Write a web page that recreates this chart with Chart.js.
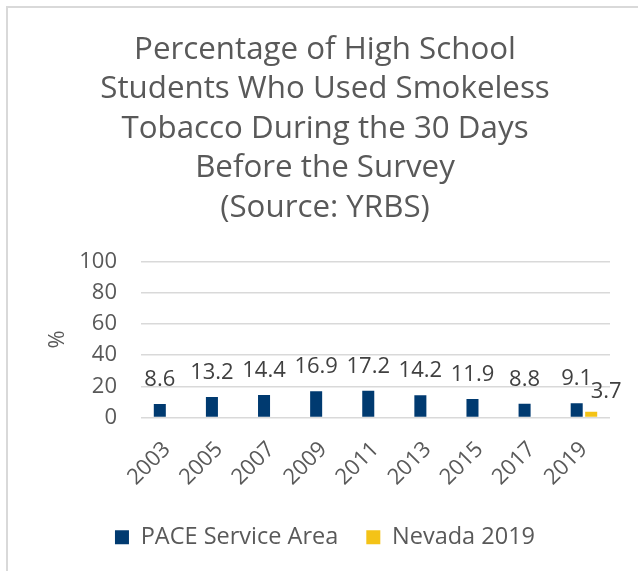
<!DOCTYPE html>
<html>
<head>
<meta charset="utf-8">
<script src="https://cdn.jsdelivr.net/npm/chart.js@4.4.1/dist/chart.umd.min.js"></script>
<style>
  html, body { margin: 0; padding: 0; background: #fff; }
  #frame { position: absolute; left: 6px; top: 6px; width: 640px; height: 570px;
           border-left: 2px solid #d9d9d9; border-top: 2px solid #d9d9d9; }
  #wrap { position: absolute; left: 0; top: 0; width: 638px; height: 571px; }
</style>
</head>
<body>
<div id="frame"></div>
<div id="wrap"><canvas id="myChart"></canvas></div>
<script>
var anos = ['2003', '2005', '2007', '2009', '2011', '2013', '2015', '2017', '2019'];
var pace = [8.6, 13.2, 14.4, 16.9, 17.2, 14.2, 11.9, 8.8, 9.1];
var nevada = [null, null, null, null, null, null, null, null, 3.7];
var yTicks = [0, 20, 40, 60, 80, 100];

var cinza = '#595959';
var fonte = "'Open Sans', sans-serif";

// rotulos de valor acima das barras
var rotulos = {
    id: 'rotulos',
    beforeDraw: function(chart) {
        // nao cortar os rotulos do eixo x
        chart.scales.x._computeLabelArea = function() { return undefined; };
    },
    afterDatasetsDraw: function(chart) {
        var ctx = chart.ctx;
        ctx.save();
        ctx.font = '22px ' + fonte;
        ctx.fillStyle = '#404040';
        ctx.textAlign = 'center';
        ctx.textBaseline = 'alphabetic';
        chart.data.datasets.forEach(function(ds, i) {
            var meta = chart.getDatasetMeta(i);
            meta.data.forEach(function(bar, j) {
                if (ds.data[j] == null) return;
                var dx = i == 1 ? 15 : 0;
                var dy = i == 1 ? 14 : 18;
                ctx.fillText(ds.data[j].toFixed(1), bar.x + dx, bar.y - dy);
            });
        });
        ctx.restore();
    }
};

const ctx = document.getElementById('myChart').getContext('2d');
const myChart = new Chart(ctx, {
    type: 'bar',
    data: {
        labels: anos,
        datasets: [{
            label: 'PACE Service Area',
            data: pace,
            backgroundColor: '#003A70',
            categoryPercentage: 0.556,
            barPercentage: 0.83
        }, {
            label: 'Nevada 2019',
            data: nevada,
            backgroundColor: '#F4C317',
            categoryPercentage: 0.556,
            barPercentage: 0.83
        }]
    },
    options: {
        responsive: true,
        maintainAspectRatio: false,
        animation: false,
        layout: { padding: { left: 40, right: 28, top: 30, bottom: 12 } },
        plugins: {
            title: {
                display: true,
                text: ['Percentage of High School', 'Students Who Used Smokeless',
                       'Tobacco During the 30 Days', 'Before the Survey', '(Source: YRBS)'],
                color: cinza,
                font: { family: fonte, size: 31.3, weight: 'normal', lineHeight: 1.262 },
                padding: { top: 0, bottom: 34 }
            },
            legend: {
                position: 'bottom',
                labels: {
                    color: cinza,
                    font: { family: fonte, size: 23.5 },
                    boxWidth: 14,
                    boxHeight: 14,
                    padding: 28
                }
            },
            tooltip: { enabled: false }
        },
        scales: {
            x: {
                grid: { display: false },
                border: { display: false },
                ticks: {
                    color: cinza,
                    font: { family: fonte, size: 22 },
                    maxRotation: 45,
                    minRotation: 45,
                    padding: 11
                },
                afterFit: function(axis) { axis.height = 80; }
            },
            y: {
                min: 0,
                max: 100,
                afterBuildTicks: function(axis) {
                    axis.ticks = yTicks.map(function(v) { return { value: v }; });
                },
                afterFit: function(axis) { axis.width = 101; },
                grid: { color: '#d9d9d9', lineWidth: 1.5, drawTicks: false },
                border: { display: false },
                ticks: {
                    color: cinza,
                    font: { family: fonte, size: 22 },
                    padding: 24,
                    autoSkip: false
                },
                title: {
                    display: true,
                    text: '%',
                    color: cinza,
                    font: { family: fonte, size: 22 },
                    padding: { top: 5, bottom: 0 }
                }
            }
        }
    },
    plugins: [rotulos]
});
</script>
</body>
</html>
